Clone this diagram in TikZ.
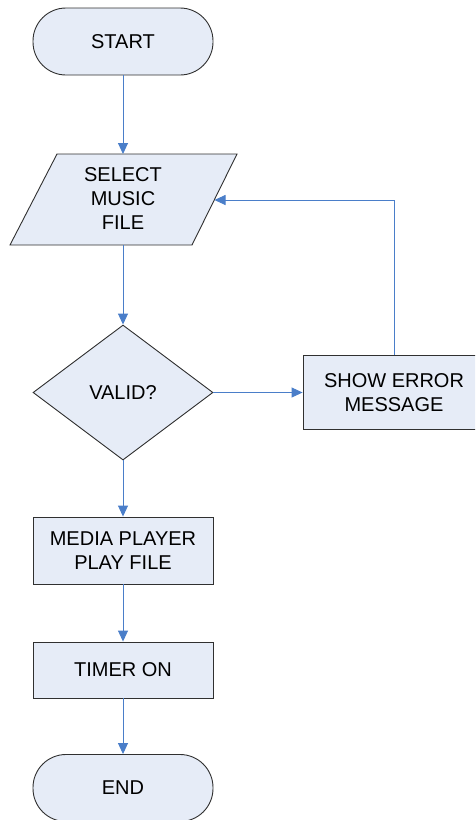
\documentclass[tikz,border=0pt]{standalone}
\usepackage{fontspec}
\setmainfont{Liberation Sans}
\usetikzlibrary{arrows.meta,shapes.geometric}

\definecolor{boxfill}{HTML}{E6ECF7}
\definecolor{boxline}{HTML}{303030}
\definecolor{flowline}{HTML}{4A7EC9}

\tikzset{
  labelfont/.style={font=\fontsize{20}{24}\selectfont},
  shapebase/.style={draw=boxline, fill=boxfill, line width=0.9pt, inner sep=0pt,
    align=center, labelfont},
  terminal/.style={shapebase, rectangle, rounded corners=33pt,
    minimum width=180pt, minimum height=67pt},
  process/.style={shapebase, rectangle, minimum width=180pt},
  decision/.style={shapebase, diamond, minimum width=180pt, minimum height=135pt, aspect=1.333},
  flow/.style={draw=flowline, line width=0.9pt, -{Triangle[length=11pt,width=10pt]}},
}

\begin{document}
\begin{tikzpicture}[x=1pt, y=-1pt]
  \useasboundingbox (0,0) rectangle (475,820);
  \clip (0,0) rectangle (475,820);

  % terminals
  \node[terminal] (start) at (123,41.5) {START};
  \node[terminal] (stop) at (123,788) {END};

  % input: select a music file (parallelogram)
  \coordinate (selA) at (57,154);
  \coordinate (selB) at (237,154);
  \coordinate (selC) at (192,245);
  \coordinate (selD) at (10,245);
  \filldraw[fill=boxfill, draw=boxline, line width=0.9pt]
    (selA) -- (selB) -- (selC) -- (selD) -- cycle;
  \node[align=center, labelfont] (select) at (123,199) {SELECT\\MUSIC\\FILE};
  \coordinate (selTop) at (123,154);
  \coordinate (selBot) at (123,245);
  \coordinate (selIn) at (214.5,200);

  % decision and processes
  \node[decision] (valid) at (123,392.5) {VALID?};
  \node[process, minimum height=74pt, minimum width=182pt] (error) at (394,392.5) {SHOW ERROR\\MESSAGE};
  \node[process, minimum height=67pt] (media) at (123,550.5) {MEDIA PLAYER\\PLAY FILE};
  \node[process, minimum height=56pt] (timer) at (123,670) {TIMER ON};

  % connectors
  \draw[flow] (start) -- (selTop);
  \draw[flow] (selBot) -- (valid.north);
  \draw[flow] (valid.east) -- (error.west);
  \draw[flow] (error.north) |- (selIn);
  \draw[flow] (valid.south) -- (media.north);
  \draw[flow] (media) -- (timer);
  \draw[flow] (timer) -- (stop);
\end{tikzpicture}
\end{document}
